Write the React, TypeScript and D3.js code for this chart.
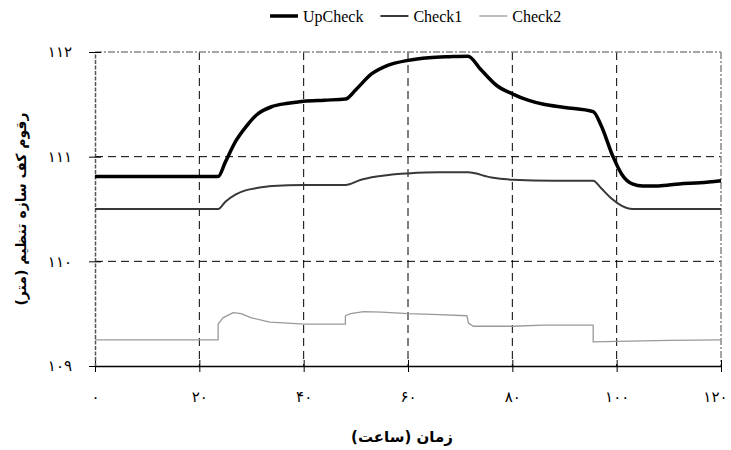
import React, { useRef, useEffect } from 'react';
import * as d3 from 'd3';

// ابعاد ثابت
const width = 731;
const height = 450;
const margin = { top: 52, right: 10, bottom: 84, left: 95 };

// داده‌ها
const upTime = [0, 23.6, 25, 27, 29, 31, 34, 37, 40, 44, 48, 50, 53, 56, 60, 64, 68, 71.5, 74, 77, 80, 83, 86, 90, 95.5, 97, 99.3, 101, 103, 105, 108, 112, 116, 120];
const upValues = [110.81, 110.81, 110.95, 111.15, 111.29, 111.4, 111.48, 111.51, 111.53, 111.54, 111.55, 111.64, 111.79, 111.87, 111.92, 111.945, 111.955, 111.96, 111.83, 111.68, 111.6, 111.54, 111.5, 111.47, 111.43, 111.3, 111.0, 110.83, 110.74, 110.72, 110.72, 110.74, 110.75, 110.77];

const check1Time = [0, 23.6, 25, 27, 29, 31, 34, 40, 48, 51, 54, 57, 60, 66, 71.5, 76, 80, 88, 95.5, 97, 99, 101, 103, 120];
const check1Values = [110.5, 110.5, 110.57, 110.64, 110.68, 110.7, 110.72, 110.73, 110.73, 110.78, 110.81, 110.83, 110.84, 110.85, 110.85, 110.8, 110.78, 110.77, 110.77, 110.7, 110.6, 110.53, 110.5, 110.5];

const check2Time = [0, 23.6, 23.6, 24.5, 26.5, 28, 30, 33.5, 37, 40, 48, 48, 49, 51.5, 55, 60, 66, 71.3, 71.6, 72.5, 80, 86, 95.5, 95.5, 100, 110, 120];
const check2Values = [109.25, 109.25, 109.4, 109.46, 109.51, 109.5, 109.46, 109.42, 109.41, 109.4, 109.4, 109.48, 109.5, 109.52, 109.515, 109.5, 109.49, 109.48, 109.41, 109.38, 109.38, 109.39, 109.39, 109.23, 109.235, 109.245, 109.25];

const seriesNames = ['UpCheck', 'Check1', 'Check2'];

const xTicks = [0, 20, 40, 60, 80, 100, 120];
const xTickLabels = ['۰', '۲۰', '۴۰', '۶۰', '۸۰', '۱۰۰', '۱۲۰'];
const yTicks = [109, 110, 111, 112];
const yTickLabels = ['۱۰۹', '۱۱۰', '۱۱۱', '۱۱۲'];

const xTitle = 'زمان (ساعت)';
const yTitle = 'رقوم کف سازه تنظیم (متر)';

export default function App() {
    const svgRef = useRef<SVGSVGElement | null>(null);

    useEffect(() => {
        if (!svgRef.current) return;
        const svg = d3.select(svgRef.current);
        svg.selectAll('*').remove();

        const x = d3.scaleLinear().domain([0, 120]).range([margin.left, width - margin.right]);
        const y = d3.scaleLinear().domain([109, 112]).range([height - margin.bottom, margin.top]);

        const styles = [
            { color: '#000', w: 3.5, curve: d3.curveMonotoneX },
            { color: '#383838', w: 2, curve: d3.curveMonotoneX },
            { color: '#999', w: 1.3, curve: d3.curveLinear },
        ];
        const series = [
            upTime.map((t, i) => [t, upValues[i]]),
            check1Time.map((t, i) => [t, check1Values[i]]),
            check2Time.map((t, i) => [t, check2Values[i]]),
        ];

        // شبکه
        const grid = svg.append('g');
        grid.selectAll('.vx')
            .data(xTicks.slice(1, -1))
            .enter()
            .append('line')
            .attr('x1', d => x(d)).attr('x2', d => x(d))
            .attr('y1', y(112)).attr('y2', y(109))
            .attr('stroke', '#000')
            .attr('stroke-dasharray', '8,5');
        grid.selectAll('.hy')
            .data(yTicks.slice(1, -1))
            .enter()
            .append('line')
            .attr('x1', x(0)).attr('x2', x(120))
            .attr('y1', d => y(d)).attr('y2', d => y(d))
            .attr('stroke', '#000')
            .attr('stroke-dasharray', '8,5');

        // کادر
        grid.append('line')
            .attr('x1', x(0)).attr('x2', x(120)).attr('y1', y(112)).attr('y2', y(112))
            .attr('stroke', '#888').attr('stroke-width', 1.5).attr('stroke-dasharray', '7,2,2,2');
        grid.append('line')
            .attr('x1', x(120)).attr('x2', x(120)).attr('y1', y(112)).attr('y2', y(109))
            .attr('stroke', '#888').attr('stroke-width', 1.5).attr('stroke-dasharray', '7,2,2,2');

        // محورها
        const xAxis = svg.append('g')
            .attr('transform', `translate(0,${y(109)})`)
            .call(d3.axisBottom(x).tickValues(xTicks).tickFormat((d, i) => xTickLabels[i]).tickSizeOuter(0));
        xAxis.select('.domain').attr('stroke', '#000').attr('stroke-width', 1.5);
        xAxis.selectAll('.tick line').attr('y1', -6).attr('y2', 6).attr('stroke', '#000');
        xAxis.selectAll('.tick text')
            .attr('y', 31)
            .attr('dy', '0.32em')
            .style('font-family', '"DejaVu Sans", sans-serif')
            .style('font-size', '15px')
            .style('fill', '#000');
        // آخرین برچسب داخل کادر بماند
        xAxis.selectAll('.tick text')
            .filter((d, i) => i === xTicks.length - 1)
            .attr('text-anchor', 'end')
            .attr('x', 6);

        const yAxis = svg.append('g')
            .attr('transform', `translate(${x(0)},0)`)
            .call(d3.axisLeft(y).tickValues(yTicks).tickFormat((d, i) => yTickLabels[i]).tickSizeOuter(0));
        yAxis.select('.domain').attr('stroke', '#555').attr('stroke-width', 1.5).attr('stroke-dasharray', '4,1.5');
        yAxis.selectAll('.tick line').attr('x1', -6).attr('x2', 6).attr('stroke', '#000');
        yAxis.selectAll('.tick text')
            .attr('x', -23)
            .attr('dy', '0.32em')
            .style('font-family', '"DejaVu Sans", sans-serif')
            .style('font-size', '15px')
            .style('fill', '#000');

        // خطوط داده
        series.forEach((s, i) => {
            const line = d3.line<number[]>().x(d => x(d[0])).y(d => y(d[1])).curve(styles[i].curve);
            svg.append('path')
                .datum(s)
                .attr('d', line)
                .attr('fill', 'none')
                .attr('stroke', styles[i].color)
                .attr('stroke-width', styles[i].w)
                .attr('stroke-linejoin', 'round');
        });

        // عنوان‌ها
        svg.append('text')
            .attr('x', 402)
            .attr('y', 437)
            .attr('dy', '0.35em')
            .attr('text-anchor', 'middle')
            .attr('direction', 'rtl')
            .style('font-family', '"DejaVu Sans", sans-serif')
            .style('font-size', '15px')
            .style('font-weight', 'bold')
            .text(xTitle);

        svg.append('text')
            .attr('transform', `translate(21,209) rotate(-90)`)
            .attr('dy', '0.35em')
            .attr('text-anchor', 'middle')
            .attr('direction', 'rtl')
            .style('font-family', '"DejaVu Sans", sans-serif')
            .style('font-size', '14px')
            .style('font-weight', 'bold')
            .text(yTitle);

        // راهنما
        const legend = svg.append('g');
        let cx = 270;
        seriesNames.forEach((name, i) => {
            legend.append('line')
                .attr('x1', cx).attr('x2', cx + 28)
                .attr('y1', 16).attr('y2', 16)
                .attr('stroke', styles[i].color)
                .attr('stroke-width', styles[i].w);
            const t = legend.append('text')
                .attr('x', cx + 33)
                .attr('y', 22)
                .style('font-family', '"Liberation Serif", "Times New Roman", serif')
                .style('font-size', '16px')
                .style('fill', '#000')
                .text(name);
            const tw = (t.node() as SVGTextElement).getComputedTextLength();
            cx = cx + 33 + tw + 17;
        });
    }, []);

    return (
        <svg ref={svgRef} width={width} height={height}
            style={{ position: 'absolute', left: 0, top: 0, background: '#fff' }} />
    );
}
